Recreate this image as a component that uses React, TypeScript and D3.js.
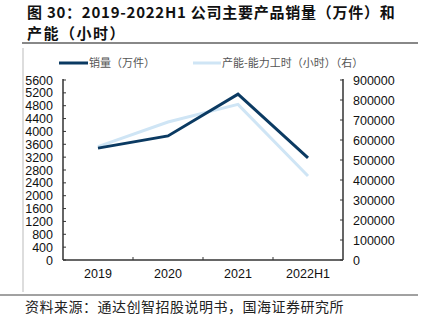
import React from "react";
import * as d3 from "d3";

const categories = ["2019", "2020", "2021", "2022H1"];
const salesValues = [3480, 3860, 5160, 3180];
const capacityValues = [567000, 690000, 778000, 420000];
const leftTicks = [0, 400, 800, 1200, 1600, 2000, 2400, 2800, 3200, 3600, 4000, 4400, 4800, 5200, 5600];
const rightTicks = [0, 100000, 200000, 300000, 400000, 500000, 600000, 700000, 800000, 900000];
const seriesNames = ["销量（万件）", "产能-能力工时（小时）（右）"];
const titleLines = ["图 30：2019-2022H1 公司主要产品销量（万件）和", "产能（小时）"];
const sourceText = "资料来源：通达创智招股说明书，国海证券研究所";

const W = 423;
const H = 331;
const FONT = "'Liberation Sans', Arial, 'Noto Sans CJK SC', sans-serif";
const CJK = "'Noto Sans CJK SC', sans-serif";
const DARK = "#0b3a62";
const LIGHT = "#cfe5f5";
const AXIS = "#333";

export default function App() {
  const left = 63, right = 343, top = 80, bottom = 260;
  const x = d3.scaleBand<string>().domain(categories).range([left, right]);
  const yL = d3.scaleLinear().domain([0, 5600]).range([bottom, top]);
  const yR = d3.scaleLinear().domain([0, 900000]).range([bottom, top]);
  const cx = (c: string) => (x(c) as number) + x.bandwidth() / 2;
  const salesLine = d3.line<number>().x((_, i) => cx(categories[i])).y((d) => yL(d));
  const capLine = d3.line<number>().x((_, i) => cx(categories[i])).y((d) => yR(d));

  return (
    <svg width={W} height={H} style={{ position: "absolute", left: 0, top: 0, background: "#fff" }}>
      <text x={27} y={17.5} fontFamily={CJK} fontWeight="bold" fontSize={15} fill="#111" letterSpacing={0.75}>{titleLines[0]}</text>
      <text x={27} y={39} fontFamily={CJK} fontWeight="bold" fontSize={15} fill="#111" letterSpacing={1.5}>{titleLines[1]}</text>
      <line x1={22} x2={418} y1={43} y2={43} stroke="#888" strokeWidth={2} />
      <line x1={23} x2={23} y1={48} y2={292} stroke="#bbb" strokeWidth={1} />
      <line x1={0} x2={418} y1={295} y2={295} stroke="#444" strokeWidth={1} />
      <text x={25} y={312} fontFamily={CJK} fontSize={14} fill="#222" letterSpacing={0.5}>{sourceText}</text>

      {/* legend */}
      <line x1={59} x2={88} y1={63} y2={63} stroke={DARK} strokeWidth={3} />
      <text x={89} y={67} fontFamily={CJK} fontSize={11} fill="#555">{seriesNames[0]}</text>
      <line x1={193} x2={221} y1={63} y2={63} stroke={LIGHT} strokeWidth={3} />
      <text x={222} y={67} fontFamily={CJK} fontSize={11} fill="#555">{seriesNames[1]}</text>

      {/* axes */}
      <line x1={left} x2={left} y1={top - 1} y2={bottom} stroke={AXIS} strokeWidth={1.5} />
      <line x1={right} x2={right} y1={top - 1} y2={bottom} stroke={AXIS} strokeWidth={1.5} />
      <line x1={left} x2={right} y1={bottom} y2={bottom} stroke={AXIS} strokeWidth={1.5} />
      {leftTicks.map((t) => (
        <g key={"l" + t}>
          <line x1={left} x2={left + 3} y1={yL(t)} y2={yL(t)} stroke={AXIS} />
          <text x={53} y={yL(t) + 4.5} textAnchor="end" fontFamily={FONT} fontSize={12.5} fill="#111">{t}</text>
        </g>
      ))}
      {rightTicks.map((t) => (
        <g key={"r" + t}>
          <line x1={right - 3} x2={right} y1={yR(t)} y2={yR(t)} stroke={AXIS} />
          <text x={353} y={yR(t) + 4.5} textAnchor="start" fontFamily={FONT} fontSize={12.5} fill="#111">{t}</text>
        </g>
      ))}
      {categories.slice(1).map((c) => (
        <line key={"t" + c} x1={x(c) as number} x2={x(c) as number} y1={bottom} y2={bottom - 3} stroke={AXIS} />
      ))}
      {categories.map((c) => (
        <text key={c} x={cx(c)} y={278} textAnchor="middle" fontFamily={FONT} fontSize={12.5} fill="#111">{c}</text>
      ))}

      <path d={capLine(capacityValues) || ""} fill="none" stroke={LIGHT} strokeWidth={3} />
      <path d={salesLine(salesValues) || ""} fill="none" stroke={DARK} strokeWidth={3} />
    </svg>
  );
}
